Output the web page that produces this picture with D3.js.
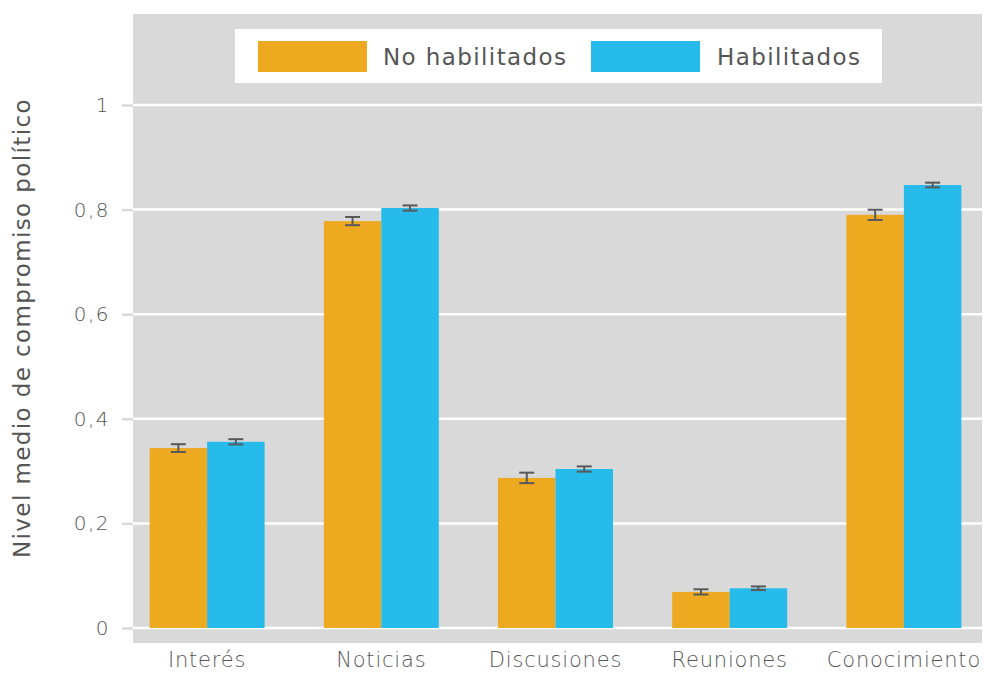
<!DOCTYPE html>
<html>
<head>
<meta charset="utf-8">
<script src="https://cdn.jsdelivr.net/npm/d3@7"></script>
<style>
  html, body { margin: 0; padding: 0; background: #ffffff; }
  svg { display: block; }
  text { font-family: "DejaVu Sans", "Open Sans", sans-serif; fill: #555555; }
</style>
</head>
<body>
<svg id="chart" width="984" height="673"></svg>
<script>
const categories = ["Interés", "Noticias", "Discusiones", "Reuniones", "Conocimiento"];
const seriesNames = ["No habilitados", "Habilitados"];
const noHabilitados = [0.344, 0.778, 0.287, 0.069, 0.790];
const habilitados = [0.356, 0.803, 0.304, 0.076, 0.847];
const errNoHabilitados = [0.0075, 0.0078, 0.010, 0.005, 0.0098];
const errHabilitados = [0.005, 0.005, 0.005, 0.0035, 0.0045];
const yTicks = [0, 0.2, 0.4, 0.6, 0.8, 1];
const yTickLabels = ["0", "0,2", "0,4", "0,6", "0,8", "1"];
const colors = ["#EDA920", "#27BBEC"];

const svg = d3.select("#chart");
const panel = { left: 133, right: 982, top: 14, bottom: 643 };

const x = d3.scaleBand().domain(categories).range([120, 991]).paddingInner(0.34).paddingOuter(0.17);
const xs = d3.scaleBand().domain(seriesNames).range([0, x.bandwidth()]);
const y = d3.scaleLinear().domain([0, 1]).range([628, 105]);

// panel background
svg.append("rect")
  .attr("x", panel.left).attr("y", panel.top)
  .attr("width", panel.right - panel.left).attr("height", panel.bottom - panel.top)
  .attr("fill", "#D9D9D9");

// y axis with gridlines
const yAxis = d3.axisLeft(y).tickValues(yTicks).tickFormat((d, i) => yTickLabels[i]).tickSize(11).tickPadding(12);
const yg = svg.append("g").attr("transform", `translate(${panel.left},0)`).call(yAxis);
yg.select(".domain").remove();
yg.selectAll(".tick line").attr("stroke", "#D9D9D9").attr("stroke-width", 2.5);
yg.selectAll(".tick text").style("font-size", "20px").style("font-weight", 300)
  .style("letter-spacing", "1.5px").attr("fill", "#3a3a3a");

svg.append("g").selectAll("line").data(yTicks).join("line")
  .attr("x1", panel.left).attr("x2", panel.right)
  .attr("y1", d => y(d)).attr("y2", d => y(d))
  .attr("stroke", "#ffffff").attr("stroke-width", 2.5);

// bars
const data = categories.map((c, i) => ({
  cat: c,
  vals: [
    { s: seriesNames[0], v: noHabilitados[i], e: errNoHabilitados[i], c: colors[0] },
    { s: seriesNames[1], v: habilitados[i], e: errHabilitados[i], c: colors[1] }
  ]
}));

const groups = svg.append("g").selectAll("g").data(data).join("g")
  .attr("transform", d => `translate(${x(d.cat)},0)`);

groups.selectAll("rect").data(d => d.vals).join("rect")
  .attr("x", d => xs(d.s)).attr("width", xs.bandwidth())
  .attr("y", d => y(d.v)).attr("height", d => y(0) - y(d.v))
  .attr("fill", d => d.c);

// error bars
const eb = groups.selectAll("g.err").data(d => d.vals).join("g").attr("class", "err")
  .attr("transform", d => `translate(${xs(d.s) + xs.bandwidth() / 2},0)`);
eb.append("line").attr("x1", 0).attr("x2", 0)
  .attr("y1", d => y(d.v + d.e)).attr("y2", d => y(d.v - d.e))
  .attr("stroke", "#595959").attr("stroke-width", 2);
eb.append("line").attr("x1", -7.5).attr("x2", 7.5)
  .attr("y1", d => y(d.v + d.e)).attr("y2", d => y(d.v + d.e))
  .attr("stroke", "#595959").attr("stroke-width", 2);
eb.append("line").attr("x1", -7.5).attr("x2", 7.5)
  .attr("y1", d => y(d.v - d.e)).attr("y2", d => y(d.v - d.e))
  .attr("stroke", "#595959").attr("stroke-width", 2);

// x axis labels
const xAxis = d3.axisBottom(x).tickSize(0).tickPadding(0);
const xg = svg.append("g").attr("transform", `translate(0,652)`).call(xAxis);
xg.select(".domain").remove();
xg.selectAll(".tick text").style("font-size", "21px").style("font-weight", 300)
  .style("letter-spacing", "0.8px").attr("fill", "#3a3a3a").attr("dy", "0.72em");

// y title
svg.append("text")
  .attr("transform", "translate(22,328) rotate(-90)")
  .attr("text-anchor", "middle").attr("dy", "0.35em")
  .style("font-size", "23px").style("font-weight", 400).style("letter-spacing", "1.4px")
  .text("Nivel medio de compromiso político");

// legend
svg.append("rect").attr("x", 235).attr("y", 29).attr("width", 647).attr("height", 54).attr("fill", "#ffffff");
const legendX = [258, 591];
const legendTextX = [383, 717];
seriesNames.forEach((s, i) => {
  svg.append("rect").attr("x", legendX[i]).attr("y", 41).attr("width", 109).attr("height", 31).attr("fill", colors[i]);
  svg.append("text").attr("x", legendTextX[i]).attr("y", 56.5).attr("dy", "0.36em")
    .style("font-size", "23px").style("font-weight", 400).style("letter-spacing", "1.4px").text(s);
});
</script>
</body>
</html>
